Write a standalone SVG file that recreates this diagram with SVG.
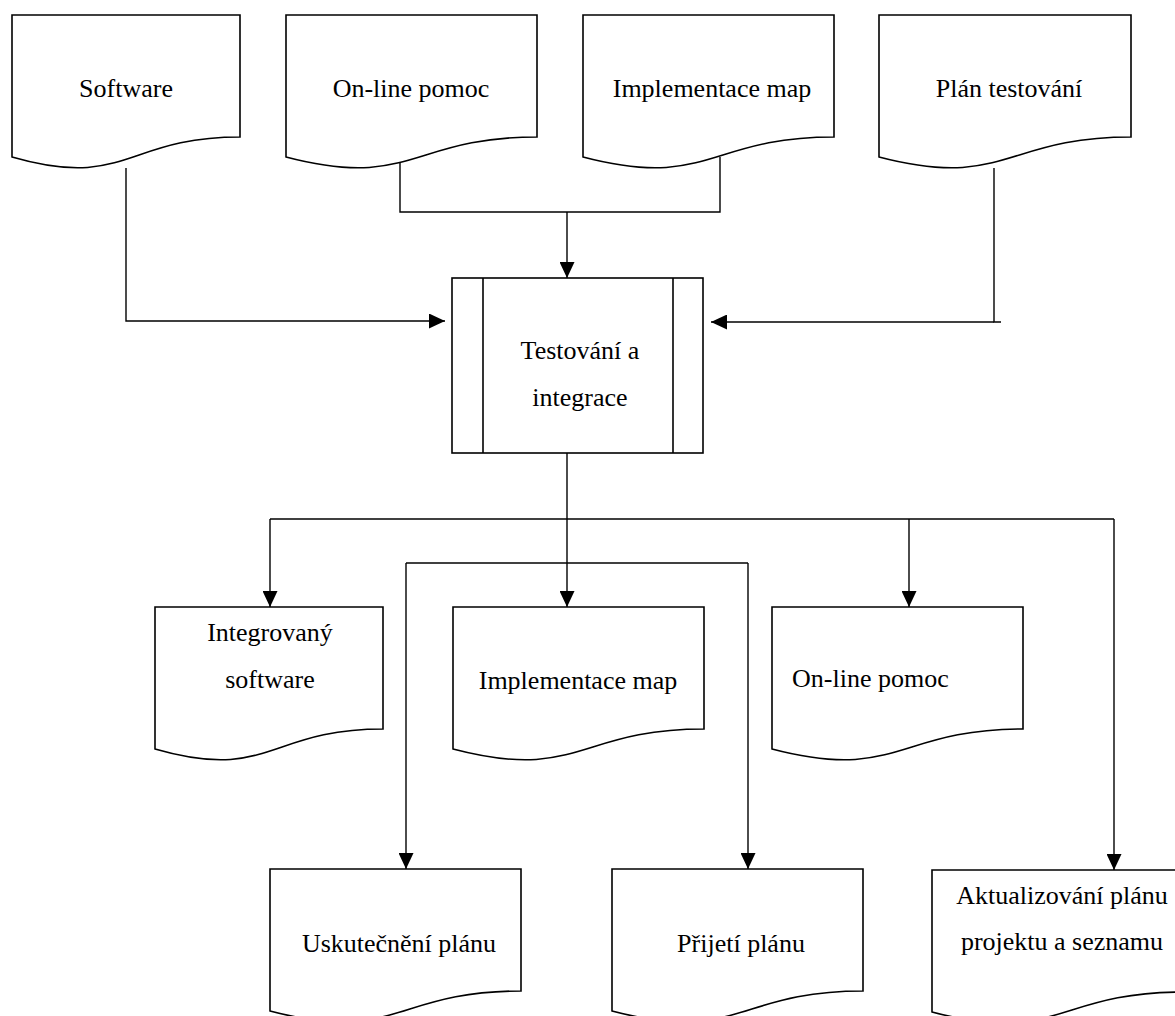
<svg xmlns="http://www.w3.org/2000/svg" width="1175" height="1016" viewBox="0 0 1175 1016">
<style>
.doc{fill:#fff;stroke:#000;stroke-width:1.6;stroke-linejoin:miter}
.box{fill:#fff;stroke:#000;stroke-width:1.6}
.con{fill:none;stroke:#000;stroke-width:1.4}
.t{font-family:"Liberation Serif","Times New Roman",serif;font-size:26px;fill:#000}
.c{text-anchor:middle}
</style>
<defs>
<marker id="ah" markerUnits="userSpaceOnUse" markerWidth="16" markerHeight="15" refX="16" refY="7.5" orient="auto">
<path d="M0,0 L16,7.5 L0,15 Z" fill="#000"/>
</marker>
</defs>
<rect width="1175" height="1016" fill="#fff"/>
<g id="connectors">
<path class="con" d="M126,168 V321 H445" marker-end="url(#ah)"/>
<path class="con" d="M1001,322 H994 V168"/>
<path class="con" d="M994,322 H711" marker-end="url(#ah)"/>
<path class="con" d="M400,163 V212 H720 V157"/>
<path class="con" d="M567,212 V278" marker-end="url(#ah)"/>
<path class="con" d="M567,453 V607" marker-end="url(#ah)"/>
<path class="con" d="M270,519 H1114"/>
<path class="con" d="M270,519 V607" marker-end="url(#ah)"/>
<path class="con" d="M909,519 V607" marker-end="url(#ah)"/>
<path class="con" d="M1114,519 V870" marker-end="url(#ah)"/>
<path class="con" d="M406,563 H748"/>
<path class="con" d="M406,563 V869" marker-end="url(#ah)"/>
<path class="con" d="M748,563 V869" marker-end="url(#ah)"/>
</g>
<g id="software">
<path class="doc" d="M12,15 H240 V137 C126,137 126,190 12,157 Z"/>
<text class="t c" x="126" y="97">Software</text>
</g>
<g id="online-pomoc-in">
<path class="doc" d="M286,15 H537 V137 C411.5,137 411.5,190 286,157 Z"/>
<text class="t c" x="411" y="97">On-line pomoc</text>
</g>
<g id="implementace-map-in">
<path class="doc" d="M583,15 H834 V137 C708.5,137 708.5,190 583,157 Z"/>
<text class="t c" x="712" y="97">Implementace map</text>
</g>
<g id="plan-testovani">
<path class="doc" d="M879,15 H1131 V137 C1005,137 1005,190 879,157 Z"/>
<text class="t c" x="1009" y="97">Plán testování</text>
</g>
<g id="testovani-integrace">
<rect class="box" x="452" y="278" width="251" height="175"/>
<line class="box" x1="483" y1="278" x2="483" y2="453"/>
<line class="box" x1="673" y1="278" x2="673" y2="453"/>
<text class="t c" x="580" y="359">Testování a</text>
<text class="t c" x="580" y="406">integrace</text>
</g>
<g id="integrovany-software">
<path class="doc" d="M155,607 H383 V729 C269,729 269,782 155,749 Z"/>
<text class="t c" x="270" y="641">Integrovaný</text>
<text class="t c" x="270" y="688">software</text>
</g>
<g id="implementace-map-out">
<path class="doc" d="M453,607 H704 V729 C578.5,729 578.5,782 453,749 Z"/>
<text class="t c" x="578" y="689">Implementace map</text>
</g>
<g id="online-pomoc-out">
<path class="doc" d="M772,607 H1023 V729 C897.5,729 897.5,782 772,749 Z"/>
<text class="t" x="792" y="687">On-line pomoc</text>
</g>
<g id="uskutecneni-planu">
<path class="doc" d="M270,869 H521 V991 C395.5,991 395.5,1044 270,1011 Z"/>
<text class="t c" x="399" y="952">Uskutečnění plánu</text>
</g>
<g id="prijeti-planu">
<path class="doc" d="M612,869 H863 V991 C737.5,991 737.5,1044 612,1011 Z"/>
<text class="t c" x="741" y="952">Přijetí plánu</text>
</g>
<g id="aktualizovani">
<path class="doc" d="M932,870 H1183 V992 C1057.5,992 1057.5,1045 932,1012 Z"/>
<text class="t c" x="1062" y="904">Aktualizování plánu</text>
<text class="t c" x="1062" y="950">projektu a seznamu</text>
</g>
</svg>
